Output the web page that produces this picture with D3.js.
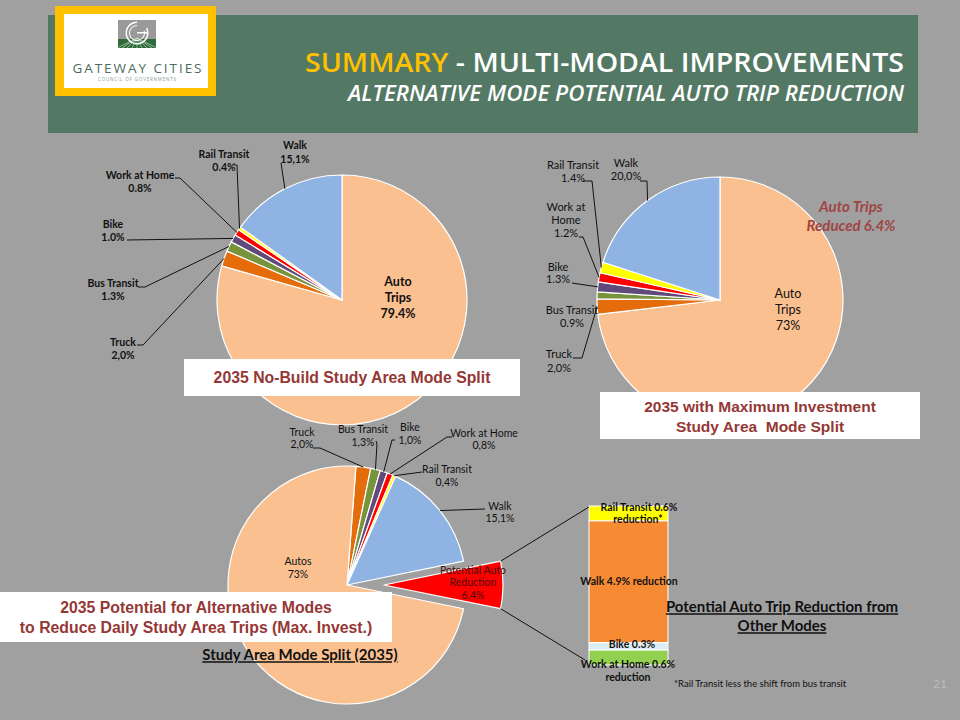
<!DOCTYPE html>
<html><head><meta charset="utf-8">
<script src="https://cdn.jsdelivr.net/npm/d3@7"></script>
<style>body{margin:0;background:#a0a0a0;overflow:hidden}svg{display:block}</style>
</head><body><svg id="c" width="960" height="720"></svg>
<script>
// ---------------- DATA ----------------
const noBuildModes = ["Auto Trips","Truck","Bus Transit","Bike","Work at Home","Rail Transit","Walk"];
const noBuildShare = [79.4,2.0,1.3,1.0,0.8,0.4,15.1];
const noBuildLabels = ["79.4%","2,0%","1.3%","1.0%","0.8%","0.4%","15,1%"];

const maxInvestModes = ["Auto Trips","Truck","Bus Transit","Bike","Work at Home","Rail Transit","Walk"];
const maxInvestShare = [73,2.0,0.9,1.3,1.2,1.4,20.0];
const maxInvestLabels = ["73%","2,0%","0.9%","1.3%","1.2%","1.4%","20,0%"];

const potentialModes = ["Truck","Bus Transit","Bike","Work at Home","Rail Transit","Walk","Potential Auto Reduction","Autos"];
const potentialShare = [2.0,1.3,1.0,0.8,0.4,15.1,6.4,73];
const potentialLabels = ["2,0%","1,3%","1,0%","0,8%","0,4%","15,1%","6.4%","73%"];

const reductionModes = ["Rail Transit","Walk","Bike","Work at Home"];
const reductionShare = [0.6,4.9,0.3,0.6];
const reductionLabels = [["Rail Transit 0.6%","reduction*"],["Walk 4.9% reduction"],["Bike 0.3%"],["Work at Home 0.6%","reduction"]];

// ---------------- STYLE ----------------
const pieColor = d3.scaleOrdinal()
  .domain(["Auto Trips","Autos","Truck","Bus Transit","Bike","Work at Home","Rail Transit","Walk","Potential Auto Reduction"])
  .range(["#fac090","#fac090","#e46c0a","#77933c","#604a7b","#ff0000","#ffff00","#8fb4e3","#ff0000"]);
const barColor = d3.scaleOrdinal().domain(reductionModes).range(["#ffff00","#f68b33","#dbeef4","#92d050"]);
const FONT = "Lato, 'Open Sans', sans-serif";
const DARKRED = "#953735";

const svg = d3.select("#c");
svg.append("rect").attr("width",960).attr("height",720).attr("fill","#a0a0a0");

// ---------------- HEADER ----------------
svg.append("rect").attr("x",48).attr("y",15).attr("width",870).attr("height",118).attr("fill","#537964");
svg.append("rect").attr("x",55).attr("y",6).attr("width",161).attr("height",90).attr("fill","#ffc000");
svg.append("rect").attr("x",64).attr("y",14).attr("width",144).attr("height",74).attr("fill","#ffffff");
// logo mark
const logo = svg.append("g");
logo.append("rect").attr("x",118).attr("y",20).attr("width",38).attr("height",28).attr("fill","#9a9a9a");
logo.append("rect").attr("x",118).attr("y",39).attr("width",38).attr("height",9).attr("fill","#2f6b3a");
for(let i=-4;i<=4;i++){
  logo.append("line").attr("x1",137).attr("y1",38).attr("x2",137+i*5).attr("y2",48).attr("stroke","#cfe3cf").attr("stroke-width",0.6);
}
logo.append("path").attr("d",d3.arc()({innerRadius:10,outerRadius:11.5,startAngle:0.35*Math.PI,endAngle:2.0*Math.PI}))
  .attr("transform","translate(137,33)").attr("fill","#ffffff");
logo.append("path").attr("d",d3.arc()({innerRadius:7,outerRadius:8,startAngle:0.4*Math.PI,endAngle:2.0*Math.PI}))
  .attr("transform","translate(137,33)").attr("fill","#ffffff");
logo.append("rect").attr("x",137).attr("y",32).attr("width",11).attr("height",1.5).attr("fill","#fff");
svg.append("text").attr("x",137).attr("y",73).attr("text-anchor","middle").attr("font-family","'Open Sans', sans-serif")
  .attr("font-size",13.5).attr("fill","#4b6b5c").attr("textLength",129).attr("lengthAdjust","spacing").text("GATEWAY CITIES");
svg.append("text").attr("x",137).attr("y",81).attr("text-anchor","middle").attr("font-family","'Open Sans', sans-serif")
  .attr("font-size",4.5).attr("fill","#8a9a90").attr("textLength",78).attr("lengthAdjust","spacing").text("COUNCIL OF GOVERNMENTS");

const t1 = svg.append("text").attr("x",305).attr("y",72).attr("font-family","'Open Sans', sans-serif").attr("font-size",27)
  .attr("font-weight",600).attr("textLength",599).attr("lengthAdjust","spacingAndGlyphs");
t1.append("tspan").attr("fill","#ffc000").text("SUMMARY");
t1.append("tspan").attr("fill","#ffffff").text(" - MULTI-MODAL IMPROVEMENTS");
svg.append("text").attr("x",348).attr("y",101).attr("font-family","'Open Sans', sans-serif").attr("font-size",21)
  .attr("font-style","italic").attr("font-weight",600).attr("fill","#ffffff")
  .attr("textLength",556).attr("lengthAdjust","spacingAndGlyphs").text("ALTERNATIVE MODE POTENTIAL AUTO TRIP REDUCTION");

// ---------------- PIE HELPER ----------------
function drawPie(cfg){
  const data = cfg.modes.map((m,i)=>({mode:m, value:cfg.values[i], label:cfg.labels[i]}));
  const pie = d3.pie().sort(null).value(d=>d.value)
    .startAngle(cfg.start).endAngle(cfg.start+2*Math.PI);
  const arcs = pie(data);
  const arc = d3.arc().innerRadius(0).outerRadius(cfg.r);
  const g = svg.append("g");
  const offs = d => {
    if(cfg.explode && cfg.explode[d.data.mode]){
      const a=(d.startAngle+d.endAngle)/2, o=cfg.explode[d.data.mode];
      return [o*Math.sin(a), -o*Math.cos(a)];
    }
    return [0,0];
  };
  g.selectAll("path.s").data(arcs).join("path").attr("class","s")
    .attr("d",arc)
    .attr("transform",d=>{const o=offs(d);return `translate(${cfg.cx+o[0]},${cfg.cy+o[1]})`;})
    .attr("fill",d=>pieColor(d.data.mode)).attr("stroke","#ffffff").attr("stroke-width",1.2).attr("stroke-linejoin","round");
  arcs.forEach(d=>{
    const L = cfg.layout[d.data.mode];
    if(!L) return;
    if(L.path){
      const a=(d.startAngle+d.endAngle)/2;
      const edge=[cfg.cx+cfg.r*Math.sin(a), cfg.cy-cfg.r*Math.cos(a)];
      g.append("path").attr("d",d3.line()(L.path.concat([edge]))).attr("fill","none")
        .attr("stroke","#111").attr("stroke-width",1);
    }
    const lines=(L.split||[d.data.mode]).concat([d.data.label]);
    lines.forEach((s,k)=>{
      g.append("text").attr("x",L.x).attr("y",L.y+k*(L.lh||13)).attr("dy","0.35em")
        .attr("text-anchor","middle").attr("font-family",FONT)
        .attr("font-size",L.fs||cfg.fs).attr("font-weight",L.fw||cfg.fw)
        .attr("fill",L.fill||"#111").text(s);
    });
  });
  return {arcs};
}

// ---------------- PIE 1: NO-BUILD ----------------
drawPie({cx:342, cy:300, r:125, start:0, modes:noBuildModes, values:noBuildShare, labels:noBuildLabels, fs:10.5, fw:"bold",
  layout:{
    "Auto Trips":{x:398,y:282,lh:16,fs:12.5,split:["Auto","Trips"]},
    "Truck":{x:123,y:342,path:[[137,345],[143,345]]},
    "Bus Transit":{x:113,y:283,path:[[138,287],[145,287]]},
    "Bike":{x:113,y:224,path:[[127,240]]},
    "Work at Home":{x:140,y:175,path:[[175,178],[180,178]]},
    "Rail Transit":{x:224,y:154,path:[[234,165],[237,165]]},
    "Walk":{x:295,y:145,lh:14,path:[[281,163]]}
  }});
svg.append("rect").attr("x",184).attr("y",359).attr("width",336).attr("height",37).attr("fill","#fff");
svg.append("text").attr("x",352).attr("y",377).attr("dy","0.35em").attr("text-anchor","middle")
  .attr("font-family","'Liberation Sans', Arial, sans-serif").attr("font-weight","bold").attr("font-size",15.8)
  .attr("fill",DARKRED).text("2035 No-Build Study Area Mode Split");

// ---------------- PIE 2: MAX INVESTMENT ----------------
drawPie({cx:720, cy:300, r:123, start:0, modes:maxInvestModes, values:maxInvestShare, labels:maxInvestLabels, fs:11, fw:"normal",
  layout:{
    "Auto Trips":{x:788,y:294,lh:16,fs:12.5,split:["Auto","Trips"]},
    "Truck":{x:559,y:354,lh:14,path:[[573,358],[582,358]]},
    "Bus Transit":{x:572,y:310},
    "Bike":{x:558,y:267,lh:12,path:[[572,283]]},
    "Work at Home":{x:566,y:207,split:["Work at","Home"],path:[[579,237],[583,237]]},
    "Rail Transit":{x:573,y:165,path:[[583,181],[592,181]]},
    "Walk":{x:626,y:163,path:[[640,181],[647,181]]}
  }});
svg.append("rect").attr("x",600).attr("y",392).attr("width",320).attr("height",47).attr("fill","#fff");
[["2035 with Maximum Investment",407],["Study Area  Mode Split",427]].forEach(([s,y])=>
  svg.append("text").attr("x",760).attr("y",y).attr("dy","0.35em").attr("text-anchor","middle")
    .attr("font-family","'Liberation Sans', Arial, sans-serif").attr("font-weight","bold").attr("font-size",15.5)
    .attr("fill",DARKRED).style("white-space","pre").text(s));
[["Auto Trips",207],["Reduced 6.4%",226]].forEach(([s,y])=>
  svg.append("text").attr("x",851).attr("y",y).attr("dy","0.35em").attr("text-anchor","middle")
    .attr("font-family",FONT).attr("font-weight","bold").attr("font-style","italic").attr("font-size",15)
    .attr("fill","#a04545").text(s));

// ---------------- PIE 3: POTENTIAL ----------------
const p3 = drawPie({cx:347, cy:585, r:119, start:4.3*Math.PI/180, modes:potentialModes, values:potentialShare, labels:potentialLabels,
  fs:10.5, fw:"normal", explode:{"Potential Auto Reduction":37},
  layout:{
    "Truck":{x:302,y:432,lh:12,path:[[313,448],[320,448]]},
    "Bus Transit":{x:363,y:429,path:[[376,441],[377,444]]},
    "Bike":{x:410,y:427,path:[[395,440],[392,440]]},
    "Work at Home":{x:484,y:433,lh:12,path:[[452,437],[447,437]]},
    "Rail Transit":{x:447,y:469,path:[[422,472]]},
    "Walk":{x:500,y:506,lh:12,path:[[485,509]]},
    "Autos":{x:298,y:561},
    "Potential Auto Reduction":{x:473,y:570,lh:12.5,split:["Potential Auto","Reduction"],fill:"#4a0c0c"}
  }});

// ---------------- REDUCTION BAR ----------------
const barX = 589, barW = 79, barTop = 506;
const hScale = d3.scaleLinear().domain([0, d3.sum(reductionShare)]).range([0, 159]);
const stackY = d3.cumsum([0].concat(reductionShare));
const bg = svg.append("g");
reductionModes.forEach((m,i)=>{
  bg.append("rect").attr("x",barX).attr("y",barTop+hScale(stackY[i])).attr("width",barW)
    .attr("height",hScale(reductionShare[i])).attr("fill",barColor(m)).attr("stroke","#fff").attr("stroke-width",1);
});
// connectors from exploded slice to bar
const red = p3.arcs.find(d=>d.data.mode==="Potential Auto Reduction");
const ra=(red.startAngle+red.endAngle)/2, ox=37*Math.sin(ra), oy=-37*Math.cos(ra);
const corner = a => [347+ox+119*Math.sin(a), 585+oy-119*Math.cos(a)];
svg.append("path").attr("d",d3.line()([corner(red.startAngle),[barX,barTop+1]])).attr("stroke","#111").attr("fill","none");
svg.append("path").attr("d",d3.line()([corner(red.endAngle),[585,660]])).attr("stroke","#111").attr("fill","none");
const barLabelPos = [[639,507,12],[629,581,12],[632,644.5,12],[628,664,13]];
reductionLabels.forEach((ls,i)=>{
  ls.forEach((s,k)=>{
    svg.append("text").attr("x",barLabelPos[i][0]+(i===0&&k===1?-1:0)).attr("y",barLabelPos[i][1]+k*barLabelPos[i][2]).attr("dy","0.35em")
      .attr("text-anchor","middle").attr("font-family",FONT).attr("font-weight","bold").attr("font-size",10.5)
      .attr("fill","#111").text(s);
  });
});

// ---------------- TEXT BOXES ----------------
svg.append("rect").attr("x",0).attr("y",592).attr("width",392).attr("height",50).attr("fill","#fff");
[["2035 Potential for Alternative Modes",607],["to Reduce Daily Study Area Trips (Max. Invest.)",627]].forEach(([s,y])=>
  svg.append("text").attr("x",196).attr("y",y).attr("dy","0.35em").attr("text-anchor","middle")
    .attr("font-family","'Liberation Sans', Arial, sans-serif").attr("font-weight","bold").attr("font-size",15.8)
    .attr("fill",DARKRED).text(s));
svg.append("text").attr("x",300).attr("y",655).attr("dy","0.35em").attr("text-anchor","middle")
  .attr("font-family",FONT).attr("font-weight","bold").attr("font-size",15).attr("text-decoration","underline")
  .attr("fill","#111").text("Study Area Mode Split (2035)");
[["Potential Auto Trip Reduction from",607],["Other Modes",626]].forEach(([s,y])=>
  svg.append("text").attr("x",782).attr("y",y).attr("dy","0.35em").attr("text-anchor","middle")
    .attr("font-family",FONT).attr("font-weight","bold").attr("font-size",15).attr("text-decoration","underline")
    .attr("fill","#111").text(s));
svg.append("text").attr("x",674).attr("y",684).attr("dy","0.35em").attr("font-family",FONT).attr("font-size",9.5)
  .attr("fill","#111").text("*Rail Transit less the shift from bus transit");
svg.append("text").attr("x",940).attr("y",684).attr("dy","0.35em").attr("text-anchor","middle").attr("font-family",FONT)
  .attr("font-size",12).attr("fill","#bdbdbd").text("21");
</script></body></html>
